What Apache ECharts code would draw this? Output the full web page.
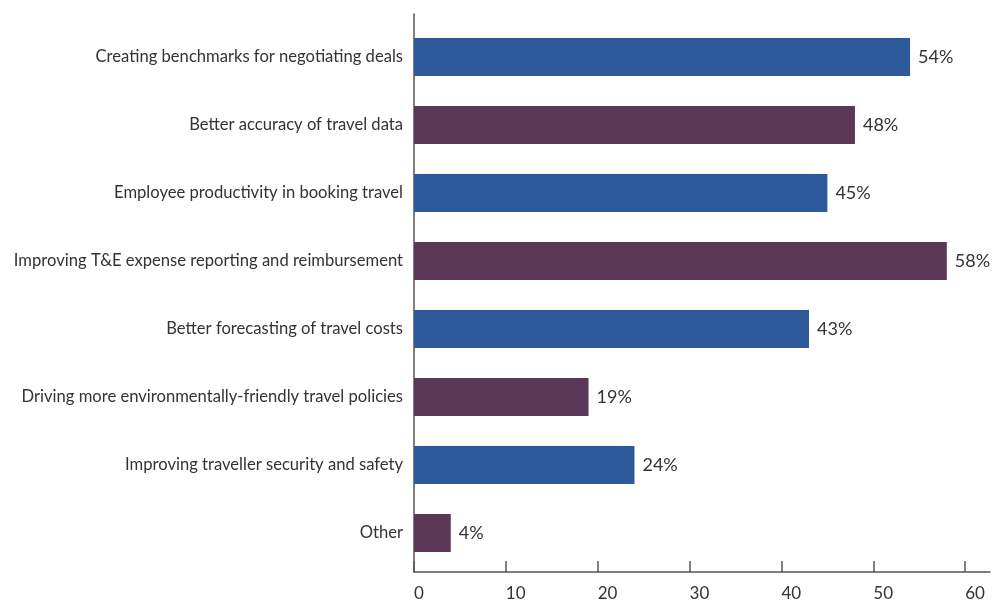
<!DOCTYPE html>
<html><head><meta charset="utf-8">
<script src="https://cdn.jsdelivr.net/npm/echarts@6/dist/echarts.min.js"></script>
<style>html,body{margin:0;padding:0;background:#fff}#c{width:993px;height:602px}</style>
</head><body><div id="c"></div>
<script>
var categories = [
  "Creating benchmarks for negotiating deals",
  "Better accuracy of travel data",
  "Employee productivity in booking travel",
  "Improving T&E expense reporting and reimbursement",
  "Better forecasting of travel costs",
  "Driving more environmentally-friendly travel policies",
  "Improving traveller security and safety",
  "Other"
];
var values = [54, 48, 45, 58, 43, 19, 24, 4];
var barColors = ["#2e5a9c", "#5b3858"];
var xTicks = [0, 10, 20, 30, 40, 50, 60];

var FONT = "Lato";
var XMAX = 62.7;
var chart = echarts.init(document.getElementById('c'));
chart.setOption({
  animation: false,
  grid: [
    {left: 414, right: 3, top: 23, height: 544},
    {left: 414, right: 3, top: 14, bottom: 24}
  ],
  xAxis: [
    {gridIndex: 0, type: 'value', min: 0, max: XMAX, show: false},
    {gridIndex: 1, type: 'value', min: 0, max: XMAX,
     axisLine: {show: true, lineStyle: {color: '#555', width: 1.5}},
     axisTick: {show: true, inside: true, length: 11, customValues: xTicks, lineStyle: {color: '#555', width: 1.5}},
     axisLabel: {customValues: xTicks, align: 'left', margin: 13, color: '#333', fontFamily: FONT, fontSize: 17,
                 formatter: function(v){return String(v);}},
     splitLine: {show: false}}
  ],
  yAxis: [
    {gridIndex: 0, type: 'category', data: categories, inverse: true,
     axisLine: {show: false}, axisTick: {show: false},
     axisLabel: {color: '#333', fontFamily: FONT, fontSize: 16.6, margin: 11}},
    {gridIndex: 1, type: 'value', min: 0, max: 1,
     axisLine: {show: true, lineStyle: {color: '#555', width: 1.5}},
     axisTick: {show: false}, axisLabel: {show: false}, splitLine: {show: false}}
  ],
  series: [{
    type: 'bar', xAxisIndex: 0, yAxisIndex: 0,
    data: values.map(function(v, i){ return {value: v, itemStyle: {color: barColors[i % 2]}}; }),
    barWidth: 38,
    label: {show: true, position: 'right', distance: 8, formatter: '{c}%', color: '#333', fontFamily: FONT, fontSize: 18}
  }]
});
</script></body></html>
